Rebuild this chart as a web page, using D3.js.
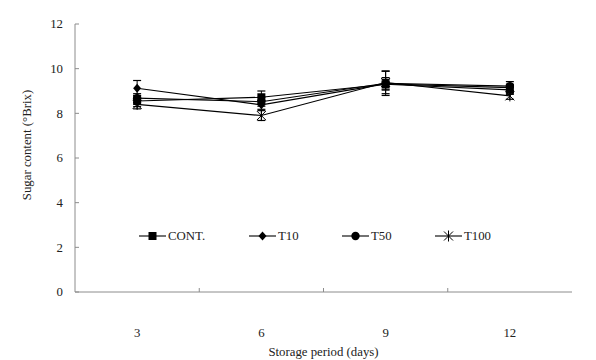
<!DOCTYPE html>
<html><head><meta charset="utf-8">
<script src="https://cdn.jsdelivr.net/npm/d3@7"></script>
<style>body{margin:0;background:#fff}</style>
</head><body><svg id="c" width="596" height="360" font-family="'Liberation Serif', 'DejaVu Serif', serif"></svg>
<script>
const days = ["3","6","9","12"];
const seriesNames = ["CONT.","T10","T50","T100"];
const cont = [8.55, 8.72, 9.30, 9.05];
const t10 = [9.12, 8.38, 9.32, 9.15];
const t50 = [8.68, 8.52, 9.35, 9.22];
const t100 = [8.40, 7.90, 9.38, 8.78];
const contErr = [0.25, 0.28, 0.22, 0.2];
const t10Err = [0.35, 0.2, 0.28, 0.15];
const t50Err = [0.2, 0.2, 0.55, 0.2];
const t100Err = [0.2, 0.22, 0.5, 0.15];
const yTicks = [0,2,4,6,8,10,12];

const series = [
  {name: seriesNames[0], vals: cont, err: contErr, sym: "square"},
  {name: seriesNames[1], vals: t10, err: t10Err, sym: "diamond"},
  {name: seriesNames[2], vals: t50, err: t50Err, sym: "circle"},
  {name: seriesNames[3], vals: t100, err: t100Err, sym: "star"}
];

const FONT = "'Liberation Serif', 'DejaVu Serif', serif";
const FS = 12.8;
const svg = d3.select("#c");
const m = {l:75, r:24, t:24, b:68};
const W = 596, H = 360;
const x = d3.scaleBand().domain(days).range([m.l, W-m.r]);
const y = d3.scaleLinear().domain([0,12]).range([H-m.b, m.t]);
const cx = d => x(d) + x.bandwidth()/2;
const txt = () => svg.append("text").attr("font-family", FONT).attr("font-size", FS).attr("fill", "#222");

// axes
const axisColor = "#8c8c8c";
svg.append("line").attr("x1", m.l).attr("x2", m.l).attr("y1", y(12)).attr("y2", y(0)).attr("stroke", axisColor);
svg.append("line").attr("x1", m.l).attr("x2", W-m.r).attr("y1", y(0)).attr("y2", y(0)).attr("stroke", axisColor);
yTicks.forEach(t => {
  svg.append("line").attr("x1", m.l).attr("x2", m.l+4).attr("y1", y(t)).attr("y2", y(t)).attr("stroke", axisColor);
  txt().attr("x", m.l-12).attr("y", y(t)).attr("dy","0.35em").attr("text-anchor","end").text(t);
});
days.forEach((d,i) => {
  if (i>0) svg.append("line").attr("x1", x(d)).attr("x2", x(d)).attr("y1", y(0)).attr("y2", y(0)-4).attr("stroke", axisColor);
  txt().attr("x", cx(d)).attr("y", y(0)+41).attr("dy","0.35em").attr("text-anchor","middle").text(d);
});
txt().attr("x", (m.l + W - m.r)/2).attr("y", 352).attr("dy","0.35em").attr("text-anchor","middle").text("Storage period (days)");
txt().attr("transform", `translate(27,${(y(12)+y(0))/2 - 13}) rotate(-90)`).attr("dy","0.35em").attr("text-anchor","middle").text("Sugar content (°Brix)");

function drawSym(g, sym, px, py) {
  if (sym === "square") g.append("rect").attr("x", px-4).attr("y", py-4).attr("width",8).attr("height",8).attr("fill","#000");
  else if (sym === "diamond") g.append("path").attr("d", `M${px},${py-4.5}L${px+4},${py}L${px},${py+4.5}L${px-4},${py}Z`).attr("fill","#000");
  else if (sym === "circle") g.append("circle").attr("cx", px).attr("cy", py).attr("r", 4.2).attr("fill","#000");
  else {
    const s = 4.5;
    g.append("path").attr("d", `M${px-s},${py-s}L${px+s},${py+s}M${px-s},${py+s}L${px+s},${py-s}M${px},${py-s-1}L${px},${py+s+1}`).attr("stroke","#000").attr("stroke-width",1).attr("fill","none");
  }
}

const line = d3.line().x((v,i) => cx(days[i])).y(v => y(v));
// error bars
series.forEach(s => {
  const g = svg.append("g");
  s.vals.forEach((v,i) => {
    const px = cx(days[i]);
    g.append("line").attr("x1",px).attr("x2",px).attr("y1",y(v-s.err[i])).attr("y2",y(v+s.err[i])).attr("stroke","#000");
    [v-s.err[i], v+s.err[i]].forEach(e => g.append("line").attr("x1",px-4).attr("x2",px+4).attr("y1",y(e)).attr("y2",y(e)).attr("stroke","#000").attr("stroke-width",1.2));
  });
});
series.forEach(s => {
  svg.append("path").attr("d", line(s.vals)).attr("fill","none").attr("stroke","#000").attr("stroke-width",1.1);
  const g = svg.append("g");
  s.vals.forEach((v,i) => drawSym(g, s.sym, cx(days[i]), y(v)));
});

// legend
const legX = [139, 249, 342, 435];
const legY = 236;
series.forEach((s,i) => {
  const g = svg.append("g");
  g.append("line").attr("x1", legX[i]).attr("x2", legX[i]+27).attr("y1", legY).attr("y2", legY).attr("stroke","#000").attr("stroke-width",1.1);
  drawSym(g, s.sym, legX[i]+13.5, legY);
  g.append("text").attr("font-family", FONT).attr("font-size", FS).attr("fill", "#222").attr("x", legX[i]+29).attr("y", legY).attr("dy","0.35em").text(s.name);
});
</script></body></html>
